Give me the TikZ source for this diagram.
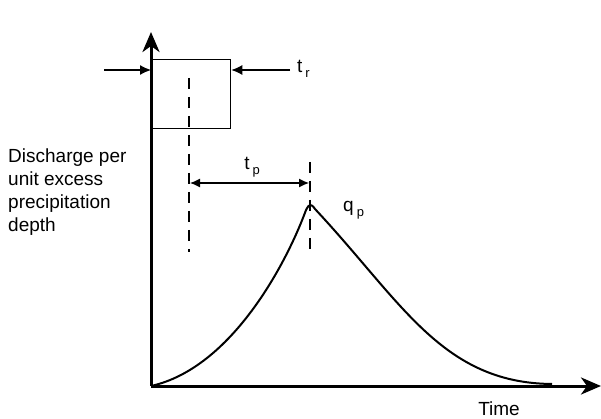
\documentclass[tikz,border=0pt]{standalone}
\usepackage{fontspec}
\setmainfont{Liberation Sans}
\usetikzlibrary{arrows.meta}
\newcommand\lowsub[1]{\hspace{3pt}\raisebox{-0.45ex}{\fontsize{13pt}{13pt}\selectfont #1}}
\begin{document}
\begin{tikzpicture}[x=1pt,y=-1pt,
  axis/.style={line width=3pt,-{Stealth[length=20pt,width=17pt,inset=6pt]}},
  rainbox/.style={draw,line width=1.3pt,inner sep=0pt,minimum width=79pt,minimum height=69pt,anchor=north west},
  tarrow/.style={line width=1.2pt,-{Latex[length=11pt,width=10pt]}},
  dimarrow/.style={line width=1.2pt,{Latex[length=10pt,width=9pt]}-{Latex[length=10pt,width=9pt]}},
  dashline/.style={line width=2.3pt,dash pattern=on 11pt off 8pt},
  hydro/.style={line width=2pt},
  lbl/.style={font=\fontsize{19pt}{23pt}\selectfont,inner sep=0pt}]
\useasboundingbox (0,0) rectangle (601,419);
% axes
\coordinate (O) at (151,386);
\coordinate (Ytip) at (151,32);
\coordinate (Xtip) at (601,386);
\draw[axis] (O) -- (Ytip);
\draw[axis] (O) -- (Xtip);
% rainfall box
\node[rainbox] (rain) at (151,59) {};
\coordinate (la) at (104,70);
\coordinate (ra) at (290,70);
\draw[tarrow] (la) -- (la -| rain.west);
\draw[tarrow] (ra) -- (ra -| rain.east);
\node[lbl,anchor=west] (tr) at (297,69) {t\lowsub{r}};
% dashed lines
\coordinate (d1a) at (189,78);
\coordinate (d1b) at (189,252);
\coordinate (d2a) at (310,162);
\coordinate (d2b) at (310,250);
\draw[dashline] (d1a) -- (d1b);
\draw[dashline] (d2a) -- (d2b);
% tp dimension
\coordinate (tpa) at (190,183);
\coordinate (tpb) at (309,183);
\draw[dimarrow] (tpa) -- (tpb);
\node[lbl] (tp) at (252,167) {t\lowsub{p}};
% hydrograph
\coordinate (pl) at (306,210);
\coordinate (pr) at (315,209);
\coordinate (tail) at (552,384);
\draw[hydro,line join=round] (O) .. controls (232,368) and (287,262) .. (pl)
             .. controls (309,204) and (311,203) .. (pr)
             .. controls (402,302) and (442,383) .. (tail);
\node[lbl,anchor=west] (qp) at (343,210) {q\lowsub{p}};
% labels
\node[lbl,anchor=north west,align=left] (ylab) at (8,149) {Discharge per\\unit excess\\precipitation\\depth};
\node[lbl] (time) at (499,409) {Time};
\end{tikzpicture}
\end{document}
